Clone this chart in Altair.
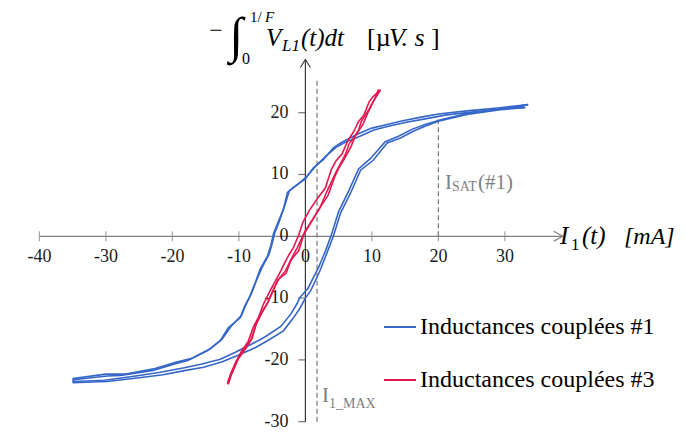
import altair as alt
import pandas as pd

SERIF = "Liberation Serif, Times New Roman, serif"
BLUE = "#3566c8"
RED = "#e2184f"
GRAY = "#808080"
DARK = "#3a3a3a"

# ---------------- data ----------------
series_names = ["Inductances couplées #1", "Inductances couplées #3"]
series_colors = [BLUE, RED]

# coupled inductors #1 : two hysteresis cycles (upper branch then lower branch)
blue_c1_x = [33.5, 29.3, 24.3, 20.0, 17.0, 14.3, 12.0, 10.0, 7.8, 5.3, 4.2, 2.7, 1.2, 0.0, -1.2, -2.7, -3.3, -4.4, -4.8, -5.2,
             -5.7, -6.8, -7.5, -8.3, -9.2, -9.8, -11.6, -12.8, -14.7, -17.7, -19.8, -22.9, -27.8, -29.8, -34.9,
             -34.9, -29.8, -25.0, -21.4, -18.0, -15.3, -12.5, -10.2, -7.5, -5.7, -3.3, -1.8, -0.8, 0.0, 0.8, 1.5,
             2.3, 3.2, 4.2, 5.3, 6.8, 8.3, 10.2, 12.3, 14.3, 16.2, 18.0, 20.0, 24.3, 29.3, 33.1]
blue_c1_y = [21.3, 20.8, 20.3, 19.8, 19.2, 18.6, 18.0, 17.5, 16.5, 15.1, 14.3, 12.4, 11.1, 9.3, 8.4, 7.1, 4.4, 1.5, 0.4, -1.5,
             -3.2, -5.3, -7.4, -9.6, -11.5, -13.2, -14.8, -16.9, -18.5, -20.1, -20.7, -21.7, -22.5, -22.6, -23.2,
             -23.7, -23.5, -22.9, -22.4, -21.7, -21.2, -20.3, -19.3, -18.0, -16.9, -15.3, -13.2, -11.6, -10.0, -8.8, -7.2,
             -5.3, -2.8, 0.0, 3.8, 7.0, 10.7, 12.3, 15.1, 15.9, 17.0, 17.8, 18.6, 19.7, 20.5, 20.8]
blue_c2_x = [33.0, 29.0, 25.0, 21.0, 18.0, 15.0, 12.5, 10.3, 8.2, 6.0, 4.6, 3.0, 1.6, 0.3, -0.9, -2.4, -3.1, -4.0, -4.6, -5.0,
             -5.5, -6.5, -7.3, -8.1, -9.0, -9.6, -11.2, -12.5, -14.3, -17.2, -19.5, -22.6, -27.0, -30.0, -34.9,
             -34.9, -30.2, -25.5, -21.8, -18.4, -15.7, -12.8, -10.6, -8.0, -6.1, -3.7, -2.2, -1.2, -0.9, 0.4, 1.1,
             2.0, 3.0, 3.9, 5.0, 6.5, 8.0, 9.8, 12.0, 14.0, 16.0, 18.0, 20.5, 24.5, 29.5, 33.5]
blue_c2_y = [20.9, 20.6, 20.1, 19.6, 19.0, 18.4, 17.8, 17.2, 16.2, 15.2, 14.4, 12.9, 11.4, 9.8, 8.6, 7.4, 5.0, 2.2, 0.6, -1.2,
             -3.0, -5.0, -7.0, -9.2, -11.2, -12.8, -14.6, -16.6, -18.2, -19.8, -20.4, -21.4, -22.3, -22.3, -23.0,
             -23.5, -23.3, -22.6, -22.0, -21.3, -20.7, -19.9, -18.8, -17.4, -16.3, -14.6, -12.6, -10.8, -10.0, -8.4, -6.9,
             -5.0, -2.4, 0.2, 4.0, 7.3, 10.9, 12.6, 15.3, 16.2, 17.3, 18.1, 18.9, 19.9, 20.6, 21.3]

# coupled inductors #3 : narrow cycles
red_c1_x = [-11.6, -11.2, -10.2, -9.0, -8.0, -7.4, -6.6, -5.6, -4.8, -4.0, -2.9, -2.2, -1.0, -0.2, 0.6, 1.9, 3.4, 4.4,
            5.0, 5.8, 6.9, 7.6, 8.6, 9.4, 10.3, 11.2,
            11.3, 10.2, 9.6, 8.8, 8.0, 7.3, 6.4, 5.5, 4.6, 3.9, 3.0, 1.8, 0.6, -0.4, -1.0, -1.8, -2.8, -3.6, -4.5,
            -5.5, -6.4, -7.0, -7.8, -8.6, -9.6, -10.5, -11.3, -11.7]
red_c1_y = [-24.0, -22.6, -20.0, -18.2, -16.5, -14.2, -12.5, -10.6, -8.6, -6.9, -6.0, -3.9, -2.3, 0.4, 1.8, 4.2, 6.6, 9.6,
            11.0, 12.4, 14.6, 16.5, 18.0, 20.0, 22.0, 23.5,
            23.7, 22.6, 21.8, 19.6, 18.6, 17.0, 15.5, 13.3, 12.2, 10.8, 7.8, 6.1, 4.2, 2.2, 0.2, -1.8, -3.6, -5.4, -7.2,
            -9.2, -11.2, -13.0, -14.6, -17.0, -18.6, -20.4, -22.4, -23.9]
red_c2_x = [-11.7, -11.0, -10.0, -8.8, -8.2, -7.2, -6.4, -5.8, -4.6, -4.2, -3.0, -2.0, -1.2, 0.0, 0.9, 2.2, 3.2, 4.6,
            5.2, 6.0, 6.6, 7.9, 8.4, 9.6, 10.5, 11.0]
red_c2_y = [-23.6, -22.0, -19.6, -17.6, -16.8, -13.6, -12.0, -11.0, -8.2, -7.2, -5.6, -3.4, -1.8, 0.9, 2.4, 4.6, 7.2, 10.4,
            11.6, 13.2, 15.0, 16.8, 18.6, 20.6, 22.4, 23.8]

# axes
x_ticks = [-40, -30, -20, -10, 0, 10, 20, 30]
x_tick_labels = ["-40", "-30", "-20", "-10", "0", "10", "20", "30"]
y_ticks = [-30, -20, -10, 0, 10, 20]
y_tick_labels = ["-30", "-20", "-10", "0", "10", "20"]
x_axis_span = [-40, 38.7]
y_axis_span = [-30, 28.6]
x_domain = [-44.72, 56.03]
y_domain = [-31.67, 36.94]

# reference lines
i1max_x = 1.75
i1max_span = [-30, 25.3]
isat_x = 20
isat_span = [0, 19.0]

# ---------------- build tables ----------------
rows = []
for name, cyc, xs_, ys_ in [
    (series_names[0], "b1", blue_c1_x, blue_c1_y),
    (series_names[0], "b2", blue_c2_x, blue_c2_y),
    (series_names[1], "r1", red_c1_x, red_c1_y),
    (series_names[1], "r2", red_c2_x, red_c2_y),
]:
    for i, (xv, yv) in enumerate(zip(xs_, ys_)):
        rows.append({"series": name, "cycle": cyc, "i": i, "x": xv, "y": yv})
curves = pd.DataFrame(rows)

xs = alt.Scale(domain=x_domain, nice=False, zero=False)
ys = alt.Scale(domain=y_domain, nice=False, zero=False)


def X(field):
    return alt.X(field, type="quantitative", scale=xs, axis=None)


def Y(field):
    return alt.Y(field, type="quantitative", scale=ys, axis=None)


def txt(s, sx, sy, size, color="#000000", style="normal", align="left", baseline="alphabetic"):
    return alt.Chart(pd.DataFrame({"t": [s]})).mark_text(
        align=align, baseline=baseline, fontSize=size, font=SERIF, fontStyle=style, color=color
    ).encode(x=alt.value(sx - 8), y=alt.value(sy - 8), text="t:N")


lines = alt.Chart(curves).mark_line(strokeWidth=1.6, clip=False).encode(
    x=X("x"), y=Y("y"),
    color=alt.Color("series:N", scale=alt.Scale(domain=series_names, range=series_colors), legend=None),
    detail="cycle:N",
    order="i:Q",
)

xaxis_df = pd.DataFrame({"x1": [x_axis_span[0]], "x2": [x_axis_span[1]], "y": [0]})
x_axis = alt.Chart(xaxis_df).mark_rule(color=GRAY, strokeWidth=1.2).encode(x=X("x1"), x2="x2", y=Y("y"))
yaxis_df = pd.DataFrame({"y1": [y_axis_span[0]], "y2": [y_axis_span[1]], "x": [0]})
y_axis = alt.Chart(yaxis_df).mark_rule(color=DARK, strokeWidth=1.2).encode(y=Y("y1"), y2="y2", x=X("x"))

xt_df = pd.DataFrame({"v": x_ticks, "lab": x_tick_labels, "z": [0] * len(x_ticks)})
yt_df = pd.DataFrame({"v": y_ticks, "lab": y_tick_labels, "z": [0] * len(y_ticks)})

x_tk = alt.Chart(xt_df).mark_tick(orient="vertical", size=10, thickness=1.2, color=GRAY).encode(x=X("v"), y=Y("z"))
y_tk = alt.Chart(yt_df).mark_tick(orient="horizontal", size=7, thickness=1.2, color=DARK, xOffset=-3.5).encode(
    x=X("z"), y=Y("v"))
x_lab = alt.Chart(xt_df).mark_text(fontSize=18, font=SERIF, color="#1a1a1a", dy=21, baseline="middle").encode(
    x=X("v"), y=Y("z"), text="lab:N")
y_lab = alt.Chart(yt_df).mark_text(fontSize=18, font=SERIF, color="#1a1a1a", dx=-17, align="right",
                                   baseline="middle").encode(x=X("z"), y=Y("v"), text="lab:N")

arrow_df = pd.DataFrame({"ax": [x_axis_span[1]], "ay": [0], "bx": [0], "by": [y_axis_span[1]]})
x_arrow = alt.Chart(arrow_df).mark_point(shape="M-1.8,-1L0,0L-1.8,1", filled=False, size=100, color=GRAY,
                                         strokeWidth=1.2, opacity=1).encode(x=X("ax"), y=Y("ay"))
y_arrow = alt.Chart(arrow_df).mark_point(shape="M-1,1.6L0,0L1,1.6", filled=False, size=100, color=DARK,
                                         strokeWidth=1.2, opacity=1).encode(x=X("bx"), y=Y("by"))

ref_df = pd.DataFrame({"x": [i1max_x, isat_x], "y1": [i1max_span[0], isat_span[0]], "y2": [i1max_span[1], isat_span[1]]})
refs = alt.Chart(ref_df).mark_rule(color=GRAY, strokeWidth=1.3, strokeDash=[5, 3]).encode(
    x=X("x"), y=Y("y1"), y2="y2")

# legend (drawn by hand)
leg_rows = [327, 380]
leg = []
for name, col, ry in zip(series_names, series_colors, leg_rows):
    leg.append(alt.Chart(pd.DataFrame({"a": [0]})).mark_rule(color=col, strokeWidth=2).encode(
        x=alt.value(384 - 8), x2=alt.value(416 - 8), y=alt.value(ry - 8)))
    leg.append(txt(name, 420, ry, 24, baseline="middle"))

# texts
texts = [
    # y title  - ∫_0^{1/F} V_L1(t)dt [µV.s]
    txt("−", 216, 31, 24, align="center", baseline="middle"),
    txt("∫", 236, 37, 50, style="italic", align="center", baseline="middle"),
    txt("1/", 250, 22, 15),
    txt("F", 265, 22, 15, style="italic"),
    txt("0", 242, 64, 16),
    txt("V", 266, 46, 25, style="italic"),
    txt("L1", 282, 51, 17, style="italic"),
    txt("(t)dt", 301, 46, 25, style="italic"),
    txt("[µ", 367, 46, 26),
    txt("V. s", 389, 46, 26, style="italic"),
    txt("]", 431, 46, 26),
    # x title  I_1(t) [mA]
    txt("I", 560, 244, 25, style="italic"),
    txt("1", 571, 250, 17),
    txt("(t)", 582, 244, 25, style="italic"),
    txt("[mA]", 624, 244, 24, style="italic"),
    # annotations
    txt("I", 445, 189, 21, color=GRAY),
    txt("SAT", 452, 191, 14, color=GRAY),
    txt("(#1)", 478, 189, 21, color=GRAY),
    txt("I", 322, 402, 21, color=GRAY),
    txt("1_MAX", 329, 408, 14, color=GRAY),
]

chart = alt.layer(
    refs, x_axis, y_axis, x_tk, y_tk, x_lab, y_lab, x_arrow, y_arrow, lines, *leg, *texts
).properties(
    width=670, height=424, padding=0, autosize=alt.AutoSizeParams(type="none")
).configure_view(strokeWidth=0)

chart.save("out.html", embed_options={"renderer": "svg", "actions": False})
